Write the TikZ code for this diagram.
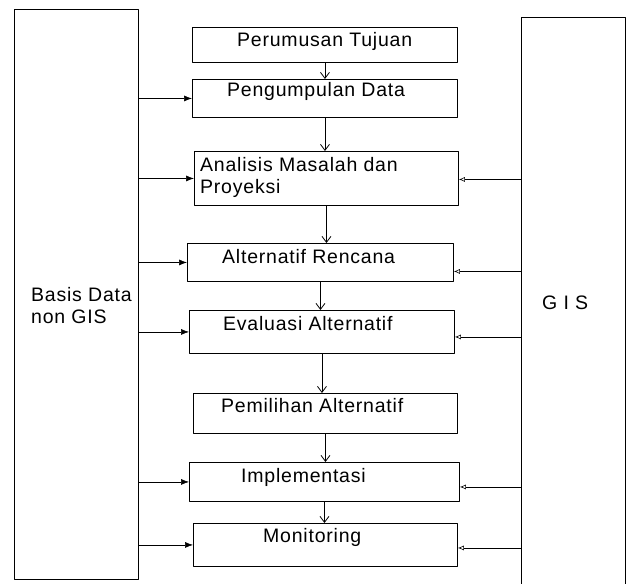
\documentclass[tikz,border=0pt]{standalone}
\usepackage{fontspec}
\setmainfont[LetterSpace=4]{Liberation Sans}
\usetikzlibrary{arrows.meta,calc}
\begin{document}
\begin{tikzpicture}[x=1pt,y=-1pt, font=\fontsize{19.5}{22}\selectfont, line join=round]
	\useasboundingbox (0,0) rectangle (630,584);
	\tikzset{
		box/.style={draw, line width=0.9pt, inner sep=0pt, anchor=north west},
		lbl/.style={anchor=base west, inner sep=0pt},
		arr/.style={line width=0.6pt, -{Latex[length=8pt,width=6pt]}},
		garr/.style={line width=0.6pt, -{Latex[open,length=6pt,width=5pt]}},
		darr/.style={line width=0.8pt, -{Straight Barb[length=6pt,width=9pt]}}
	}
	% kolom kiri dan kanan
	\node[box, minimum width=124pt, minimum height=570pt] (nongis) at (14,9) {};
	\node[box, minimum width=104pt, minimum height=580pt] (gis) at (521,17) {};
	\node[anchor=north west, inner sep=0pt, align=left] (tnongis) at (31,287) {Basis Data\\non GIS};
	\node[lbl] (tgis) at (542,309) {G I S};
	% tahapan
	\node[box, minimum width=265pt, minimum height=35pt] (b1) at (192,27) {};
	\node[box, minimum width=265pt, minimum height=38pt] (b2) at (192,79) {};
	\node[box, minimum width=264pt, minimum height=54pt] (b3) at (194,151) {};
	\node[box, minimum width=266pt, minimum height=38pt] (b4) at (187,243) {};
	\node[box, minimum width=265pt, minimum height=43pt] (b5) at (189,310) {};
	\node[box, minimum width=264pt, minimum height=40pt] (b6) at (193,393) {};
	\node[box, minimum width=270pt, minimum height=39pt] (b7) at (189,462) {};
	\node[box, minimum width=264pt, minimum height=43pt] (b8) at (193,523) {};
	\node[lbl] (t1) at (237,46) {Perumusan Tujuan};
	\node[lbl] (t2) at (227,96) {Pengumpulan Data};
	\node[anchor=north west, inner sep=0pt, align=left] (t3) at (200,157) {Analisis Masalah dan\\Proyeksi};
	\node[lbl] (t4) at (222,263) {Alternatif Rencana};
	\node[lbl] (t5) at (223,330) {Evaluasi Alternatif};
	\node[lbl] (t6) at (221,412) {Pemilihan Alternatif};
	\node[lbl] (t7) at (241,482) {Implementasi};
	\node[lbl] (t8) at (263,542) {Monitoring};
	% panah
	\foreach \a/\b in {b1/b2,b2/b3,b3/b4,b4/b5,b5/b6,b6/b7,b7/b8}
		\draw[darr] (\a.south) -- (\a.south |- \b.north);
	\foreach \b in {b2,b3,b4,b5,b7,b8}
		\draw[arr] (nongis.east |- \b.west) -- (\b.west);
	\foreach \b/\s in {b3/1,b4/9,b5/5,b7/5,b8/3}
		\draw[garr] ($(gis.west |- \b.east)+(0,\s)$) -- ($(\b.east)+(0,\s)$);
\end{tikzpicture}
\end{document}
